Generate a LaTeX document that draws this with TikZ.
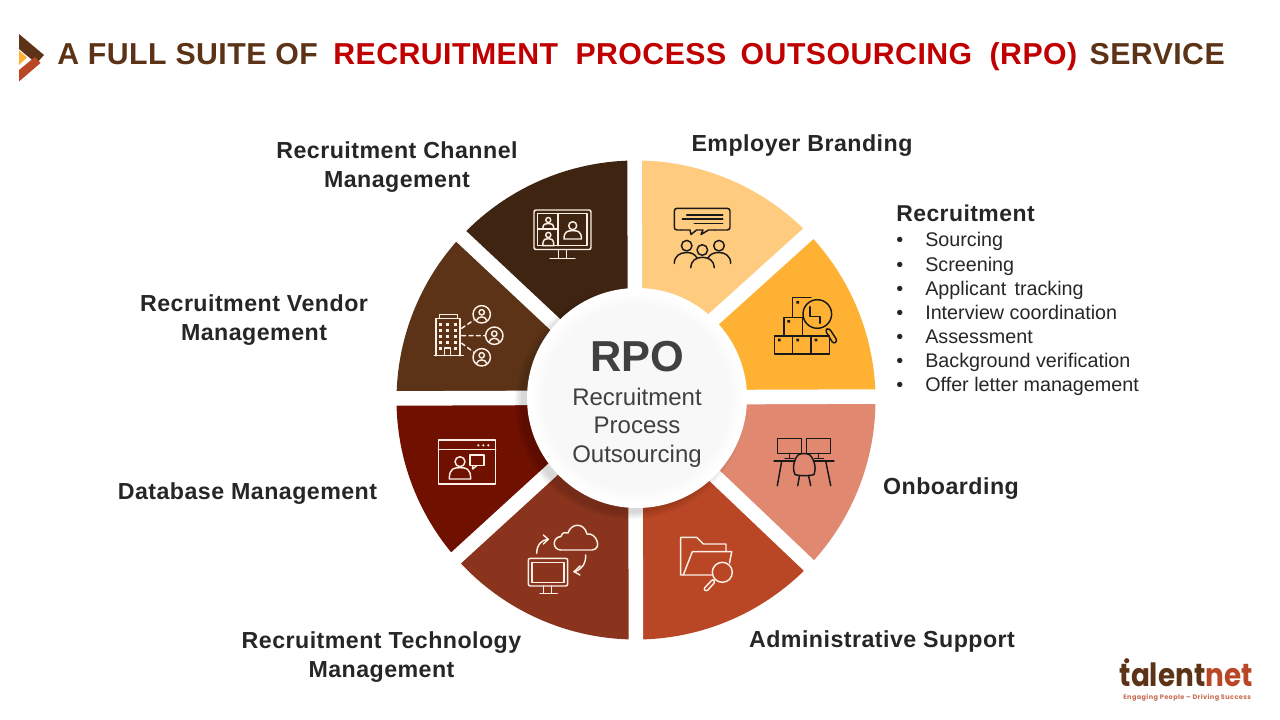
\documentclass[tikz,border=0pt]{standalone}
\usepackage{fontspec}
\setmainfont{Liberation Sans}
\newfontfamily\lsp[LetterSpace=2]{Liberation Sans}
\newfontfamily\tsp[LetterSpace=1.5]{Liberation Sans}
\newfontfamily\logof{Poppins}
\newfontfamily\logot[LetterSpace=6]{Poppins}
\definecolor{ttlbrown}{HTML}{5C3317}
\definecolor{ttlred}{HTML}{C00000}
\definecolor{labc}{HTML}{262626}
\definecolor{midc}{HTML}{404040}
\definecolor{segA}{HTML}{FECB7F}
\definecolor{segB}{HTML}{FFB133}
\definecolor{segC}{HTML}{E08870}
\definecolor{segD}{HTML}{B94624}
\definecolor{segE}{HTML}{8A341D}
\definecolor{segF}{HTML}{701000}
\definecolor{segG}{HTML}{5C3317}
\definecolor{segH}{HTML}{3F2412}
\definecolor{iconw}{HTML}{FBEFE6}
\tikzset{
 lab/.style={inner sep=0pt,text=labc,align=center,font=\lsp\bfseries\fontsize{17.4}{21.75}\selectfont},
 bul/.style={inner sep=0pt,anchor=base west,text=labc,font=\fontsize{14.8}{17}\selectfont},
 mid/.style={inner sep=0pt,anchor=base,text=midc,font=\fontsize{18}{20}\selectfont},
 ico/.style={line width=1.1pt,line join=round,line cap=round},
 icw/.style={ico,draw=iconw},
 ick/.style={ico,draw=black!90},
 gapline/.style={white,line width=10.9pt},
}
\newcommand\psn[5]{% cx, head y, head r, body bottom y, half width
 \draw (#1,#2) circle[radius=#3];
 \draw ({#1-#5},#4) .. controls ({#1-#5},{#2+#3+1}) and ({#1-0.5*#5},{#2+#3+1}) .. (#1,{#2+#3+1})
   .. controls ({#1+0.5*#5},{#2+#3+1}) and ({#1+#5},{#2+#3+1}) .. ({#1+#5},#4) -- cycle;}
\newcommand\seg[3]{\fill[#3] (636,400) -- ++(#1:239.5) arc[start angle=#1,end angle=#2,radius=239.5] -- cycle;}
\begin{document}
\begin{tikzpicture}[x=0.75pt,y=-0.75pt]
\useasboundingbox (0,0) rectangle (1280,720);
% header mark
\fill[ttlbrown] (19,34) -- (44,55) -- (36.5,63.5) -- (19,49) -- cycle;
\fill[segB] (19,50.5) -- (27,57.5) -- (19,65) -- cycle;
\fill[segD] (19,70) -- (35,57) -- (40.5,63) -- (19,81.5) -- cycle;
% title
\node[inner sep=0pt,anchor=base west,font=\tsp\bfseries\fontsize{22.7}{26}\selectfont,text=ttlbrown] (title) at (57,65)
 {A FULL SUITE OF\hspace{5pt} \textcolor{ttlred}{RECRUITMENT\hspace{6.4pt} PROCESS\hspace{4.2pt} OUTSOURCING\hspace{6.4pt} (RPO)}\hspace{2.7pt} SERVICE};
% wheel
\seg{-1}{43.6}{segC}\seg{43.6}{90}{segD}\seg{90}{138.7}{segE}\seg{138.7}{180}{segF}
\seg{180}{223}{segG}\seg{223}{270}{segH}\seg{270}{316}{segA}\seg{316}{359}{segB}
\draw[gapline] (634.5,150) -- (636,650);
\draw[gapline] (385,398.5) -- (885,396.5);
\draw[gapline] (575,343) -- (441,217.4);
\draw[gapline] (695,336) -- (830,214.2);
\draw[gapline] (573,451) -- (436,576.2);
\draw[gapline] (697,459) -- (830,585.5);
% hub shadow
\foreach \r in {115,113,111,109}{\fill[black,opacity=0.04] (630,404) circle[radius=\r];}
\fill[white] (637,398) circle[radius=110];
\foreach \r/\c in {106/fefefe,102/fcfcfc,98/fafafa,94/f8f8f8}{\definecolor{hubc}{HTML}{\c}\fill[hubc] (637,398) circle[radius=\r];}
\node[inner sep=0pt,text=midc,font=\bfseries\fontsize{32.5}{36}\selectfont] (rpo) at (637,357) {RPO};
\node[mid] (m1) at (637,405) {Recruitment};
\node[mid] (m2) at (637,433.5) {Process};
\node[mid] (m3) at (637,462) {Outsourcing};
% labels
\node[lab] (l1) at (802,145.5) {Employer Branding};
\node[lab] (l2) at (397,167) {Recruitment Channel\\Management};
\node[lab] (l3) at (254,320) {Recruitment Vendor\\Management};
\node[lab] (l4) at (247.5,493.5) {Database Management};
\node[lab] (l5) at (381.5,657) {Recruitment Technology\\Management};
\node[lab] (l6) at (882,641.5) {Administrative Support};
\node[lab] (l7) at (951,488.5) {Onboarding};
\node[lab,anchor=base west,font=\lsp\bfseries\fontsize{17.2}{21}\selectfont] (l8) at (896,222) {Recruitment};
\foreach \t [count=\i] in {Sourcing,Screening,Applicant\hspace{2pt} tracking,Interview coordination,Assessment,Background verification,Offer letter management}{
 \node[bul] (bt\i) at (925,{241+24*(\i-1)+6}) {\t};
 \node[bul] (bb\i) at (896,{241+24*(\i-1)+6}) {•};
}
% icon: channel
\begin{scope}[icw]
\draw[rounded corners=1.5] (534,210) rectangle (591,249.5);
\draw (537.5,213.5) rectangle (587,245.7);
\draw (558,213.5) -- (558,245.7) (537.5,229) -- (558,229);
\draw (558.5,249.5) -- (558.5,258.3) (566.7,249.5) -- (566.7,258.3) (550,258.3) -- (575,258.3);
\psn{572.7}{225.7}{4}{239}{8.7}
\psn{548.3}{220}{2.5}{229}{5.5}
\psn{548.3}{235}{2.6}{245.7}{5.5}
\end{scope}
% icon: employer
\begin{scope}[ick]
\draw[rounded corners=2] (681,230) -- (674.3,230) -- (674.3,208.3) -- (730,208.3) -- (730,230) -- (715,230);
\draw (681,230) -- (690,230) -- (691,234.5) -- (696.5,230) -- (703,230) -- (701,234.5) -- (708.5,230) -- (715,230);
\draw (686.7,215) -- (722.7,215) (682.3,219) -- (722.7,219) (694.3,223.3) -- (722.7,223.3);
\draw (686.7,245.7) circle[radius=5.3] (719,245.7) circle[radius=5.3] (702.3,250) circle[radius=5.3];
\draw (674.3,263.3) .. controls (674.3,256) and (680,252.5) .. (686.7,252.5) .. controls (691,252.5) and (695,254) .. (697,258);
\draw (730.7,263.3) .. controls (730.7,256) and (725,252.5) .. (719,252.5) .. controls (714,252.5) and (710,254) .. (708,258);
\draw (690.7,267.7) .. controls (690.7,261) and (696,257.3) .. (702.3,257.3) .. controls (709,257.3) and (714.3,261) .. (714.3,267.7);
\end{scope}
% icon: recruitment
\begin{scope}[ick]
\draw (774.3,336) rectangle (829.3,354) (792.7,336) -- (792.7,354) (811,336) -- (811,354);
\draw (784,336) -- (784,317.3) -- (803,317.3) (802.3,317.3) -- (802.3,336);
\draw (792.7,317.3) -- (792.7,297.7) -- (811,297.7);
\draw (817.3,314) circle[radius=14.3];
\draw (810,306.7) -- (810,316.7) -- (820,316.7) -- (820,323.3);
\draw[rounded corners=2] (825,330) -- (829,328) -- (837.5,341) -- (833.5,344) -- cycle;
\fill[black!90] (778,338.7) rectangle (780.6,341.3) (796.4,338.7) rectangle (799,341.3) (814.7,338.7) rectangle (817.3,341.3)
 (787.4,320) rectangle (790,322.6) (796.4,301) rectangle (799,303.6);
\end{scope}
% icon: vendor
\begin{scope}[icw]
\draw (434.3,355.7) -- (463.3,355.7) (436,355.7) -- (436,318.3) -- (460,318.3) -- (460,355.7);
\draw (439.3,318.3) -- (439.3,314.3) -- (457.3,314.3) -- (457.3,318.3);
\draw (444.5,355.7) -- (444.5,348) -- (450.5,348) -- (450.5,355.7);
\foreach \yy in {324,330,336,342,348}{\foreach \xx in {440,447.5,455}{
 \ifdim\yy pt=348pt\ifdim\xx pt=447.5pt\else\fill[iconw] (\xx-1.5,\yy-1.5) rectangle (\xx+1.5,\yy+1.5);\fi\else\fill[iconw] (\xx-1.5,\yy-1.5) rectangle (\xx+1.5,\yy+1.5);\fi}}
\draw (481.7,314.3) circle[radius=8.7] (494.3,335.7) circle[radius=8.7] (481.7,357.3) circle[radius=8.7];
\foreach \ax/\ay in {481.7/314.3,494.3/335.7,481.7/357.3}{
 \draw (\ax,\ay-2) circle[radius=2.7];
 \draw (\ax-5,\ay+6) .. controls (\ax-4,\ay+1.5) and (\ax+4,\ay+1.5) .. (\ax+5,\ay+6);}
\draw[dash pattern=on 3pt off 2.5pt] (461.7,328.3) -- (474,320) (461.7,335.7) -- (485,335.7) (461.7,343.3) -- (474,352.3);
\end{scope}
% icon: database
\begin{scope}[icw]
\draw (438.3,440) rectangle (495.7,484) (438.3,449.3) -- (495.7,449.3);
\fill[iconw] (478.3,445.3) circle[radius=1.2] (483.3,445.3) circle[radius=1.2] (488.3,445.3) circle[radius=1.2];
\psn{460}{461.7}{5}{479}{10.7}
\draw (470,455) rectangle (484,465.7);
\draw (472.7,465.7) -- (472.7,469) -- (476.7,465.7);
\end{scope}
% icon: technology
\begin{scope}[icw]
\draw (561,550) .. controls (552,550) and (552,537) .. (561,536.5) .. controls (562,532) and (566,532) .. (568,533)
 .. controls (571,523) and (584,522) .. (587,534) .. controls (596,532) and (603,549) .. (592,550) -- cycle;
\draw[rounded corners=1.5] (528.3,558.3) rectangle (567.7,586);
\draw (532,562.3) rectangle (564,582.3);
\draw (543.3,586) -- (543.3,593.3) (551.7,586) -- (551.7,593.3) (540,593.3) -- (557.3,593.3);
\draw (536.7,553.3) .. controls (536.7,545) and (541,540) .. (548,539.3);
\draw (543.3,535) -- (548.3,539.3) -- (543.3,544);
\draw (585.7,555) .. controls (586,563) and (582,570) .. (574,571.7);
\draw (580,566) -- (574,571.7) -- (580,575);
\end{scope}
% icon: admin
\begin{scope}[icw]
\draw (711.7,575) -- (680.7,575) -- (680.7,537.3) -- (696.7,537.3) -- (703.3,544) -- (726,544) -- (726,550.7);
\draw (683.3,575) -- (692.3,551.7) -- (731.7,551.7) -- (729.5,563);
\draw (722.3,572.3) circle[radius=10];
\draw[rounded corners=1.5] (713,579) -- (715.5,581.5) -- (706.5,591.5) -- (703.5,589) -- cycle;
\end{scope}
% icon: onboarding
\begin{scope}[ick]
\draw (777.3,438.3) rectangle (801.3,453.3) (806.7,438.3) rectangle (830.7,453.3);
\draw (789.3,453.3) -- (789.3,458.5) (785,458.5) -- (794,458.5) (818.7,453.3) -- (818.7,458.5) (814.5,458.5) -- (823.5,458.5);
\draw (774,461) -- (795,461) (813.3,461) -- (834,461);
\draw (781.7,461) -- (777.3,485.7) (825.7,461) -- (830.7,485.7);
\draw (795,474.5) .. controls (791,466) and (796,457) .. (798,455) .. controls (801,453) and (807,453) .. (810,455)
 .. controls (813,458) and (817,466) .. (814,474.5) .. controls (811,476) and (798,476) .. (795,474.5) -- cycle;
\draw (799.5,475.5) -- (797.7,485.7) (808.5,475.5) -- (810.7,485.7);
\end{scope}
% logo
\node[inner sep=0pt,anchor=base west,font=\logof\bfseries\fontsize{24}{24}\selectfont,text=ttlbrown] (logo) at (1119.5,686.5) {\scalebox{0.87}[1]{talent\textcolor{segD}{net}}};
\fill[ttlbrown] (1126.7,660.7) circle[radius=2.6];
\node[inner sep=0pt,anchor=base west,font=\logot\bfseries\fontsize{4.9}{6}\selectfont,text=segD!80] (tag) at (1123,699) {Engaging People – Driving Success};
\end{tikzpicture}
\end{document}
